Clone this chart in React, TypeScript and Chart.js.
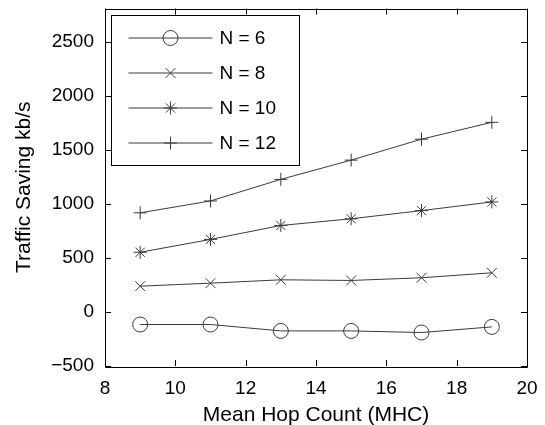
import React, { useEffect, useRef } from "react";
import { Chart, registerables } from "chart.js";

Chart.register(...registerables);

const xValues = [9, 11, 13, 15, 17, 19];
const seriesLabels = ["N = 6", "N = 8", "N = 10", "N = 12"];
const n6 = [-116, -116, -175, -175, -190, -138];
const n8 = [239, 267, 298, 292, 317, 363];
const n10 = [553, 672, 801, 863, 939, 1019];
const n12 = [918, 1028, 1228, 1406, 1600, 1756];
const xTicks = [8, 10, 12, 14, 16, 18, 20];
const yTicks = [-500, 0, 500, 1000, 1500, 2000, 2500];

const FONT = "'Liberation Sans', Arial, Helvetica, sans-serif";
const LINE = "#3a3a3a";

const styles = [
  { pointStyle: "circle", radius: 7.5 },
  { pointStyle: "crossRot", radius: 7 },
  { pointStyle: "star", radius: 6.5 },
  { pointStyle: "cross", radius: 6.5 },
];

const fmt = (v: number) => (v < 0 ? "\u2212" + Math.abs(v) : String(v));

function drawMarker(ctx: CanvasRenderingContext2D, style: string, x: number, y: number, r: number) {
  ctx.beginPath();
  if (style === "circle") {
    ctx.arc(x, y, r, 0, Math.PI * 2);
  } else {
    const plus = style === "cross" || style === "star";
    const diag = style === "crossRot" || style === "star";
    if (plus) {
      ctx.moveTo(x - r, y);
      ctx.lineTo(x + r, y);
      ctx.moveTo(x, y - r);
      ctx.lineTo(x, y + r);
    }
    if (diag) {
      const d = r * Math.SQRT1_2;
      ctx.moveTo(x - d, y - d);
      ctx.lineTo(x + d, y + d);
      ctx.moveTo(x - d, y + d);
      ctx.lineTo(x + d, y - d);
    }
  }
  ctx.stroke();
}

const framePlugin = {
  id: "matlabFrame",
  afterDatasetsDraw(chart: any) {
    const { ctx, chartArea } = chart;
    const { left, right, top, bottom } = chartArea;
    const xs = chart.scales.x;
    const ys = chart.scales.y;
    ctx.save();
    ctx.strokeStyle = "#000";
    ctx.lineWidth = 1;
    ctx.beginPath();
    ctx.rect(Math.round(left) + 0.5, Math.round(top) + 0.5, Math.round(right - left), Math.round(bottom - top));
    ctx.stroke();
    const tl = 6;
    ctx.beginPath();
    xTicks.forEach((v) => {
      const px = Math.round(xs.getPixelForValue(v)) + 0.5;
      ctx.moveTo(px, bottom);
      ctx.lineTo(px, bottom - tl);
      ctx.moveTo(px, top);
      ctx.lineTo(px, top + tl);
    });
    yTicks.forEach((v) => {
      const py = Math.round(ys.getPixelForValue(v)) + 0.5;
      ctx.moveTo(left, py);
      ctx.lineTo(left + tl, py);
      ctx.moveTo(right, py);
      ctx.lineTo(right - tl, py);
    });
    ctx.stroke();

    // legend
    const lx = Math.round(left) + 6.5;
    const ly = Math.round(top) + 6.5;
    const lw = 188;
    const lh = 150;
    ctx.fillStyle = "#fff";
    ctx.fillRect(lx, ly, lw, lh);
    ctx.strokeStyle = "#000";
    ctx.strokeRect(lx, ly, lw, lh);
    ctx.font = `19px ${FONT}`;
    ctx.textBaseline = "middle";
    ctx.textAlign = "left";
    chart.data.datasets.forEach((ds: any, i: number) => {
      const rowY = ly + 22.5 + i * 35;
      ctx.strokeStyle = LINE;
      ctx.lineWidth = 1;
      ctx.beginPath();
      ctx.moveTo(lx + 17, rowY);
      ctx.lineTo(lx + 101, rowY);
      ctx.stroke();
      drawMarker(ctx, styles[i].pointStyle, lx + 59, rowY, styles[i].radius);
      ctx.fillStyle = "#000";
      ctx.fillText(ds.label, lx + 108, rowY + 1);
    });
    ctx.restore();
  },
};

export default function App() {
  const ref = useRef<HTMLCanvasElement | null>(null);
  useEffect(() => {
    if (!ref.current) return;
    const datasets = [n6, n8, n10, n12].map((vals, i) => ({
      label: seriesLabels[i],
      data: xValues.map((x, j) => ({ x, y: vals[j] })),
      borderColor: LINE,
      borderWidth: 1,
      pointStyle: styles[i].pointStyle,
      pointRadius: styles[i].radius,
      pointHoverRadius: styles[i].radius,
      pointBorderColor: LINE,
      pointBackgroundColor: "rgba(0,0,0,0)",
      pointBorderWidth: 1,
      fill: false,
      tension: 0,
    }));
    const chart = new Chart(ref.current, {
      type: "line",
      data: { datasets },
      options: {
        animation: false,
        responsive: false,
        maintainAspectRatio: false,
        layout: { padding: { top: 8, right: 18, left: 0, bottom: 0 } },
        plugins: { legend: { display: false }, tooltip: { enabled: false } },
        scales: {
          x: {
            type: "linear",
            min: 8,
            max: 20,
            afterBuildTicks: (s: any) => {
              s.ticks = xTicks.map((v) => ({ value: v }));
            },
            afterFit: (s: any) => {
              s.height = 59;
              s.paddingLeft = 0;
              s.paddingRight = 0;
            },
            grid: { display: false, drawTicks: false },
            border: { display: false },
            ticks: {
              color: "#000",
              font: { family: FONT, size: 19 },
              padding: 11,
              maxRotation: 0,
              callback: (v: any) => fmt(Number(v)),
            },
            title: {
              display: true,
              text: "Mean Hop Count (MHC)",
              color: "#000",
              font: { family: FONT, size: 21 },
              padding: { top: 0, bottom: -3 },
            },
          },
          y: {
            type: "linear",
            min: -500,
            max: 2810,
            afterBuildTicks: (s: any) => {
              s.ticks = yTicks.map((v) => ({ value: v }));
            },
            afterFit: (s: any) => {
              s.width = 105;
              s.paddingTop = 0;
              s.paddingBottom = 0;
            },
            grid: { display: false, drawTicks: false },
            border: { display: false },
            ticks: {
              color: "#000",
              font: { family: FONT, size: 19 },
              padding: 11,
              callback: (v: any) => fmt(Number(v)),
            },
            title: {
              display: true,
              text: "Traffic Saving kb/s",
              color: "#000",
              font: { family: FONT, size: 21 },
              padding: { top: 12, bottom: 0 },
            },
          },
        },
      },
      plugins: [framePlugin],
    } as any);
    return () => chart.destroy();
  }, []);
  return (
    <div style={{ position: "absolute", left: 0, top: 0, width: 545, height: 425, background: "#fff" }}>
      <canvas ref={ref} width={545} height={425} style={{ width: 545, height: 425 }} />
    </div>
  );
}
